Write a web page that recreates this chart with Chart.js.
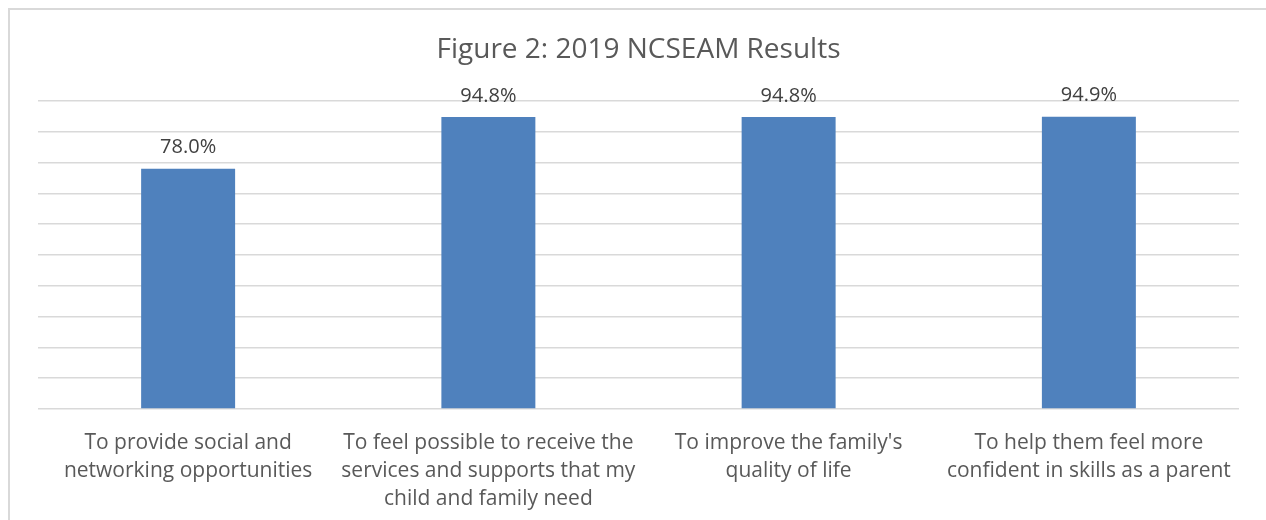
<!DOCTYPE html>
<html>
<head>
<meta charset="utf-8">
<script src="https://cdn.jsdelivr.net/npm/chart.js@4"></script>
<style>
  html, body { margin: 0; padding: 0; background: #fff; overflow: hidden; }
  #wrap { position: relative; width: 1266px; height: 520px; }
  #frame { position: absolute; left: 8px; top: 8px; width: 1400px; height: 600px; border: 2px solid #d9d9d9; box-sizing: border-box; pointer-events: none; }
  canvas { position: absolute; left: 0; top: 0; }
</style>
</head>
<body>
<div id="wrap">
  <canvas id="myChart" width="1266" height="520"></canvas>
  <div id="frame"></div>
</div>
<script>
// 차트 데이터
const titleText = "Figure 2: 2019 NCSEAM Results";
const categories = [
    ["To provide social and", "networking opportunities"],
    ["To feel possible to receive the", "services and supports that my", "child and family need"],
    ["To improve the family's", "quality of life"],
    ["To help them feel more", "confident in skills as a parent"],
];
const values = [78.0, 94.8, 94.8, 94.9];
const yMin = 0;
const yMax = 100;
const yStep = 10;

const FONT = "'Open Sans', 'Liberation Sans', sans-serif";

// 제목과 막대 위 값 라벨을 그리는 플러그인
const labelPlugin = {
    id: "labels",
    afterDatasetsDraw(chart) {
        const c = chart.ctx;
        c.save();
        c.fillStyle = "#404040";
        c.font = "20px " + FONT;
        c.textAlign = "center";
        c.textBaseline = "bottom";
        chart.getDatasetMeta(0).data.forEach((bar, i) => {
            c.fillText(values[i].toFixed(1) + "%", bar.x, bar.y - 11);
        });
        c.fillStyle = "#595959";
        c.font = "28px " + FONT;
        c.textBaseline = "middle";
        c.fillText(titleText, (chart.chartArea.left + chart.chartArea.right) / 2, 50);
        c.restore();
    },
};

const ctx = document.getElementById("myChart").getContext("2d");
const myChart = new Chart(ctx, {
    type: "bar",
    data: {
        labels: categories,
        datasets: [
            {
                data: values,
                backgroundColor: "#4f81bd",
                borderWidth: 0,
                categoryPercentage: 1,
                barPercentage: 0.313,
            },
        ],
    },
    options: {
        responsive: false,
        animation: false,
        layout: { padding: { left: 38, right: 27, top: 101, bottom: 0 } },
        plugins: {
            legend: { display: false },
            title: { display: false },
            tooltip: { enabled: false },
        },
        scales: {
            x: {
                grid: { display: false },
                border: { display: false },
                ticks: {
                    color: "#595959",
                    font: { family: FONT, size: 21, lineHeight: 1.333 },
                    padding: 12,
                    maxRotation: 0,
                    autoSkip: false,
                },
                afterFit(scale) { scale.height = 111; },
            },
            y: {
                display: true,
                min: yMin,
                max: yMax,
                ticks: { display: false, stepSize: yStep },
                grid: { color: "#d9d9d9", lineWidth: 1.5, drawTicks: false },
                border: { display: false },
                afterFit(scale) { scale.width = 0; },
            },
        },
    },
    plugins: [labelPlugin],
});
</script>
</body>
</html>
